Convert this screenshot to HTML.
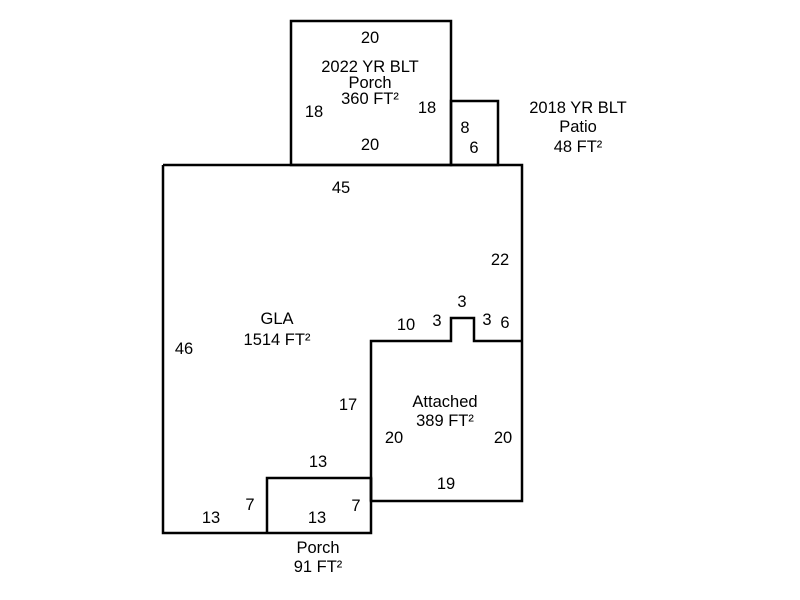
<!DOCTYPE html>
<html><head><style>html,body{margin:0;padding:0;background:#fff}svg{display:block}text{font-family:"Liberation Sans",Arial,sans-serif;font-size:16.5px;fill:#000;text-anchor:middle}</style></head>
<body>
<svg width="800" height="600" viewBox="0 0 800 600" xmlns="http://www.w3.org/2000/svg">
<g fill="none" stroke="#000" stroke-width="2.5">
<rect x="291" y="21" width="160" height="144"/>
<rect x="451" y="101" width="47" height="64"/>
<path d="M163 165 H522 V501 H371 V341 H451 V318 H474 V341 H522"/>
<path d="M163 165 V533 H371 V478 H267 V533"/>
<path d="M371 478 V501"/>
</g>
<text x="370" y="43">20</text>
<text x="370" y="72">2022 YR BLT</text>
<text x="370" y="88">Porch</text>
<text x="370" y="104">360 FT²</text>
<text x="314" y="117">18</text>
<text x="427" y="113">18</text>
<text x="370" y="150">20</text>
<text x="465" y="133">8</text>
<text x="474" y="153">6</text>
<text x="578" y="113">2018 YR BLT</text>
<text x="578" y="132">Patio</text>
<text x="578" y="152">48 FT²</text>
<text x="341" y="193">45</text>
<text x="500" y="265">22</text>
<text x="277" y="324">GLA</text>
<text x="277" y="345">1514 FT²</text>
<text x="184" y="354">46</text>
<text x="406" y="330">10</text>
<text x="437" y="326">3</text>
<text x="462" y="307">3</text>
<text x="487" y="325">3</text>
<text x="505" y="328">6</text>
<text x="348" y="410">17</text>
<text x="445" y="407">Attached</text>
<text x="445" y="426">389 FT²</text>
<text x="394" y="443">20</text>
<text x="503" y="443">20</text>
<text x="318" y="467">13</text>
<text x="446" y="489">19</text>
<text x="250" y="510">7</text>
<text x="356" y="511">7</text>
<text x="211" y="523">13</text>
<text x="317" y="523">13</text>
<text x="318" y="553">Porch</text>
<text x="318" y="572">91 FT²</text>
</svg>
</body></html>
